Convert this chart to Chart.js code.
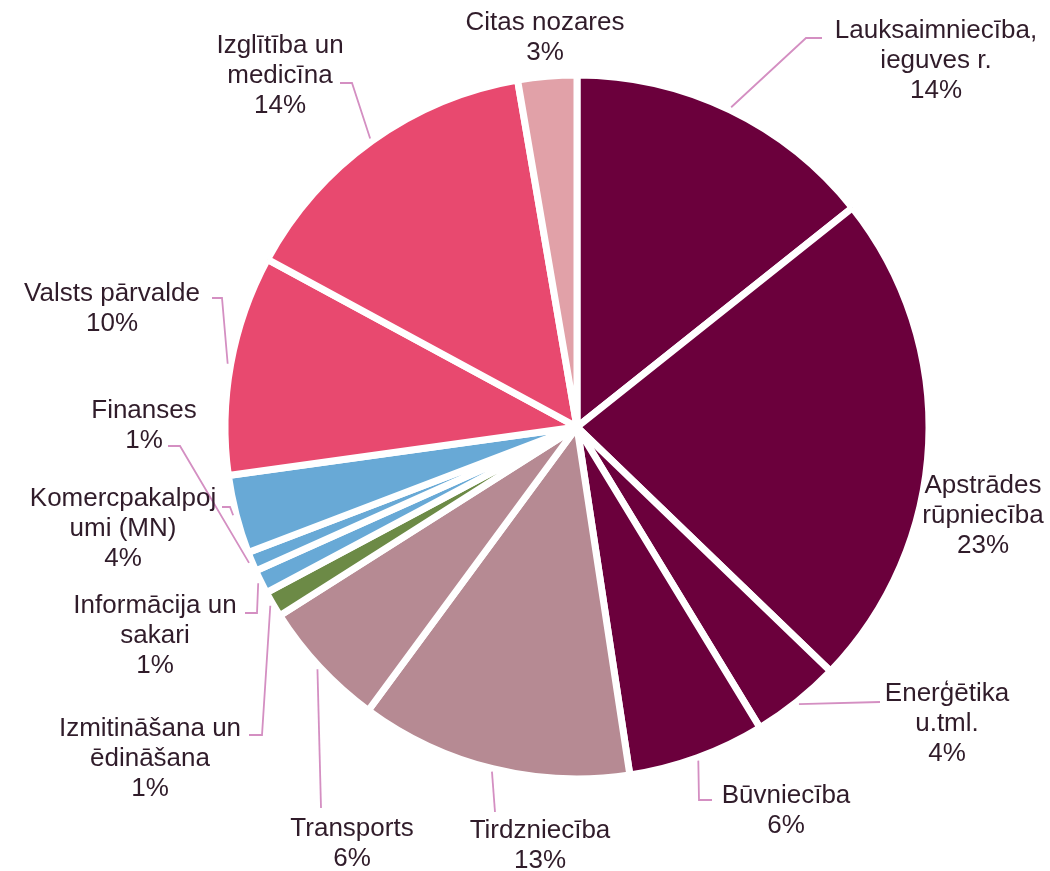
<!DOCTYPE html>
<html>
<head>
<meta charset="utf-8">
<script src="https://cdn.jsdelivr.net/npm/chart.js@4"></script>
<style>
  html, body { margin: 0; padding: 0; background: #ffffff; }
  #wrap { width: 1050px; height: 871px; position: relative; }
</style>
</head>
<body>
<div id="wrap"><canvas id="pie" width="1050" height="871"></canvas></div>
<script>
// sectors, clockwise from 12 o'clock
const categories = [
  'Lauksaimniecība, ieguves r.', 'Apstrādes rūpniecība', 'Enerģētika u.tml.', 'Būvniecība',
  'Tirdzniecība', 'Transports', 'Izmitināšana un ēdināšana', 'Informācija un sakari',
  'Finanses', 'Komercpakalpojumi (MN)', 'Valsts pārvalde', 'Izglītība un medicīna', 'Citas nozares'
];
const shares = [14.3, 22.9, 4.1, 6.3, 12.5, 5.9, 1.2, 1.1, 0.9, 3.6, 10.1, 14.4, 2.7];

// how the label text is wrapped (percent line is added from the data)
const labelLines = [
  ['Lauksaimniecība,', 'ieguves r.'], ['Apstrādes', 'rūpniecība'], ['Enerģētika', 'u.tml.'], ['Būvniecība'],
  ['Tirdzniecība'], ['Transports'], ['Izmitināšana un', 'ēdināšana'], ['Informācija un', 'sakari'],
  ['Finanses'], ['Komercpakalpoj', 'umi (MN)'], ['Valsts pārvalde'], ['Izglītība un', 'medicīna'], ['Citas nozares']
];

const colors = [
  '#6b003c', '#6b003c', '#6b003c', '#6b003c', '#b68a93', '#b68a93', '#6c8a46',
  '#68a9d6', '#68a9d6', '#68a9d6', '#e8496f', '#e8496f', '#e1a1a8'
];

// label placement: centre x, first line y
const labelPos = [
  [936, 31], [983, 486], [947, 694], [786, 796], [540, 831], [352, 829], [150, 729],
  [155, 606], [144, 411], [123, 499], [112, 294], [280, 46], [545, 23]
];
// leader line points on the label side; the last point is taken from the slice
const leaders = [
  [[822, 38], [806, 38]], null, [[880, 702]], [[712, 800], [699, 800]],
  [[495, 812]], [[321, 808]], [[249, 735], [262, 735]], [[245, 613], [257, 613]],
  [[168, 446], [180, 446]], [[222, 507], [230, 507]], [[212, 298], [222, 298]], [[340, 83], [352, 83]], null
];

const lineH = 30;

const labelPlugin = {
  id: 'pieLabels',
  afterDatasetsDraw(chart) {
    const ctx = chart.ctx;
    const meta = chart.getDatasetMeta(0);
    const total = shares.reduce((a, b) => a + b, 0);
    ctx.save();
    meta.data.forEach((arc, i) => {
      const p = arc.getProps(['x', 'y', 'startAngle', 'endAngle', 'outerRadius'], true);
      const mid = (p.startAngle + p.endAngle) / 2;
      if (leaders[i]) {
        const ex = p.x + Math.cos(mid) * (p.outerRadius + 3);
        const ey = p.y + Math.sin(mid) * (p.outerRadius + 3);
        ctx.strokeStyle = '#d48fc2';
        ctx.lineWidth = 1.8;
        ctx.beginPath();
        leaders[i].forEach((pt, k) => k === 0 ? ctx.moveTo(pt[0], pt[1]) : ctx.lineTo(pt[0], pt[1]));
        ctx.lineTo(ex, ey);
        ctx.stroke();
      }
      const lines = labelLines[i].concat([Math.round(shares[i] / total * 100) + '%']);
      ctx.fillStyle = '#301c2a';
      ctx.font = '26px "Liberation Sans", Arial, sans-serif';
      ctx.textAlign = 'center';
      ctx.textBaseline = 'middle';
      lines.forEach((t, k) => ctx.fillText(t, labelPos[i][0], labelPos[i][1] + k * lineH));
    });
    ctx.restore();
  }
};

const pie = new Chart(document.getElementById('pie').getContext('2d'), {
  type: 'pie',
  data: {
    labels: categories,
    datasets: [{
      data: shares,
      backgroundColor: colors,
      borderColor: '#ffffff',
      borderWidth: 7,
      hoverOffset: 0
    }]
  },
  options: {
    responsive: false,
    animation: false,
    radius: 352,
    layout: { padding: { left: 104, right: 0, top: 0, bottom: 17 } },
    plugins: {
      legend: { display: false },
      tooltip: { enabled: false }
    },
    events: []
  },
  plugins: [labelPlugin]
});
</script>
</body>
</html>
